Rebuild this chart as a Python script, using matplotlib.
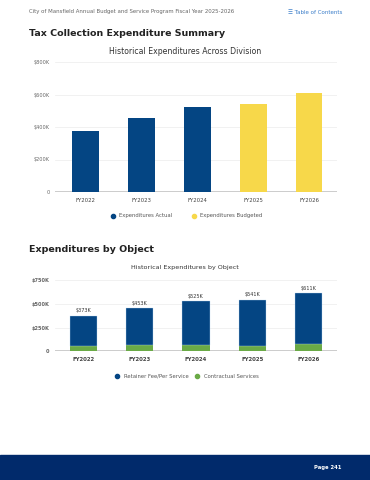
import matplotlib

matplotlib.use("Agg")
import matplotlib.pyplot as plt
import numpy as np
from matplotlib.lines import Line2D
from matplotlib.patches import Rectangle

years = ["FY2022", "FY2023", "FY2024", "FY2025", "FY2026"]
# total expenditures ($K): first three actual, last two budgeted
totals = [373, 453, 525, 541, 611]
is_budget = [False, False, False, True, True]
# breakdown by object ($K)
contractual = [56, 63, 62, 61, 76]
retainer = [t - c for t, c in zip(totals, contractual)]

BLUE = "#044583"
YELLOW = "#f7d84a"
GREEN = "#6aaa46"
NAVY = "#012a6b"
TXT = "#333333"
GREY = "#666666"

plt.rcParams["font.family"] = ["DejaVu Sans"]

W, H = 370, 480
fig = plt.figure(figsize=(W / 100, H / 100), dpi=100)


def fy(y):
    return 1 - y / H


def fx(x):
    return x / W


# page header
fig.text(fx(29), fy(11), "City of Mansfield Annual Budget and Service Program Fiscal Year 2025-2026",
         fontsize=3.9, color=GREY, va="center")
fig.text(fx(342), fy(12), "\u2630 Table of Contents", fontsize=4.0, color="#3a7dc9",
         va="center", ha="right")
fig.text(fx(29), fy(33), "Tax Collection Expenditure Summary", fontsize=6.8,
         fontweight="bold", color="#222222", va="center")
fig.text(fx(29), fy(249), "Expenditures by Object", fontsize=6.8,
         fontweight="bold", color="#222222", va="center")

# footer band
fig.patches.append(Rectangle((0, 0), 1, fy(455), transform=fig.transFigure,
                             color=NAVY, zorder=0))
fig.text(fx(342), fy(467), "Page 241", fontsize=3.8, fontweight="bold",
         color="white", va="center", ha="right")

x = np.arange(len(years))


def style_axes(ax, ticks, labels, bold):
    for s in ax.spines.values():
        s.set_visible(False)
    ax.set_yticks(ticks)
    ax.set_yticklabels(labels, fontsize=3.6, color=GREY,
                       fontweight="bold" if bold else "normal")
    ax.set_xticks(x)
    ax.set_xticklabels(years, fontsize=3.9, color="#444444",
                       fontweight="bold" if bold else "normal")
    ax.tick_params(length=0, pad=4)
    ax.grid(axis="y", color="#ececec", lw=0.5)
    ax.set_axisbelow(True)
    ax.axhline(0, color="#c4c4c4", lw=1.2, zorder=1)


# chart 1: historical expenditures across division
ax1 = fig.add_axes([fx(55), fy(192), fx(337 - 55), (192 - 62) / H])
colors = [YELLOW if b else BLUE for b in is_budget]
ax1.bar(x, totals, width=0.48, color=colors, zorder=2)
ax1.set_ylim(0, 800)
ax1.set_xlim(-0.54, 4.5)
style_axes(ax1, [0, 200, 400, 600, 800], ["0", "$200K", "$400K", "$600K", "$800K"], False)
fig.text(0.5, fy(52), "Historical Expenditures Across Division", fontsize=5.6,
         color=TXT, ha="center", va="center")
h1 = [Line2D([], [], marker="o", ls="", color=BLUE, markersize=3),
      Line2D([], [], marker="o", ls="", color=YELLOW, markersize=3)]
fig.legend(h1, ["Expenditures Actual", "Expenditures Budgeted"], loc="center",
           bbox_to_anchor=(0.5, fy(216)), ncol=2, frameon=False, fontsize=3.8,
           handletextpad=0.3, columnspacing=3, labelcolor="#555555")

# chart 2: historical expenditures by object
ax2 = fig.add_axes([fx(55), fy(351.3), fx(337 - 55), (351.3 - 280) / H])
ax2.bar(x, contractual, width=0.48, color=GREEN, zorder=2)
ax2.bar(x, retainer, bottom=contractual, width=0.48, color=BLUE, zorder=2,
        edgecolor="#bcd8f2", lw=0.25)
for xi, t in zip(x, totals):
    ax2.text(xi, t + 25, f"${t}K", ha="center", va="bottom", fontsize=3.6, color=TXT)
ax2.set_ylim(0, 750)
ax2.set_xlim(-0.5, 4.5)
style_axes(ax2, [0, 250, 500, 750], ["0", "$250K", "$500K", "$750K"], True)
fig.text(0.5, fy(268), "Historical Expenditures by Object", fontsize=4.6,
         color=TXT, ha="center", va="center")
h2 = [Line2D([], [], marker="o", ls="", color=BLUE, markersize=3),
      Line2D([], [], marker="o", ls="", color=GREEN, markersize=3)]
fig.legend(h2, ["Retainer Fee/Per Service", "Contractual Services"], loc="center",
           bbox_to_anchor=(0.5, fy(376)), ncol=2, frameon=False, fontsize=3.8,
           handletextpad=0.3, columnspacing=0.6, labelcolor="#555555")

fig.savefig("out.png", dpi=100)
